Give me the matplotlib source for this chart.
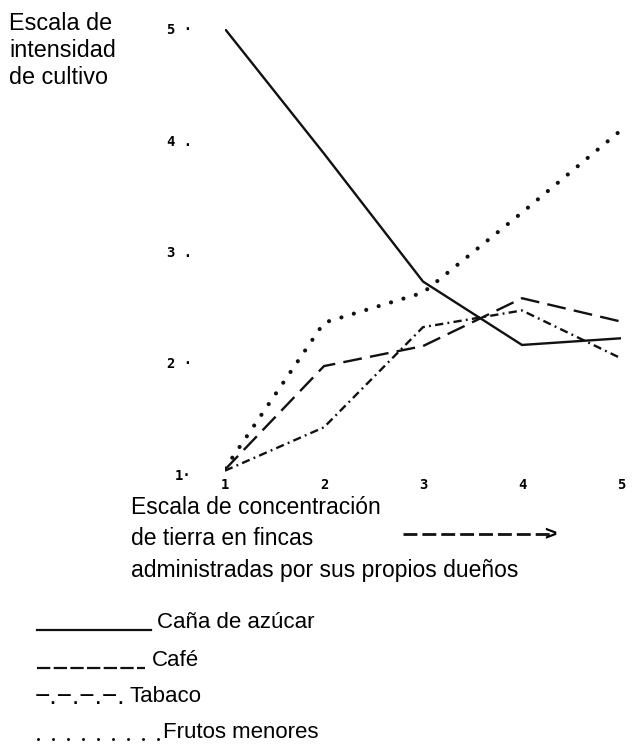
import matplotlib
matplotlib.use("Agg")
import matplotlib.pyplot as plt
from matplotlib.lines import Line2D

# data
x_vals = [1, 2, 3, 4, 5]
cana = [5.0, 3.88, 2.73, 2.16, 2.22]
cafe = [1.04, 1.97, 2.15, 2.58, 2.37]
tabaco = [1.03, 1.42, 2.32, 2.47, 2.04]
frutos = [1.05, 2.36, 2.63, 3.35, 4.09]

x_ticks = [1, 2, 3, 4, 5]
y_ticks = [1, 2, 3, 4, 5]
y_tick_labels = ["1·", "2 ·", "3 .", "4 .", "5 ·"]
x_tick_labels = ["1", "2", "3", "4", "5"]

plt.rcParams['font.family'] = ['Liberation Sans', 'DejaVu Sans']

W, H = 633, 746
fig = plt.figure(figsize=(W / 100, H / 100), dpi=100)


def fx(px):
    return px / W


def fy(py):
    return 1 - py / H


# axes placed so x=1 -> 225px, x=5 -> 621px, y=1 -> 474px, y=5 -> 29px
ax = fig.add_axes([fx(225), fy(474), (621 - 225) / W, (474 - 29) / H])
ax.set_xlim(1, 5)
ax.set_ylim(1, 5)
for s in ax.spines.values():
    s.set_visible(False)

ink = "#111111"
ax.plot(x_vals, cana, color=ink, lw=1.7, solid_joinstyle='miter')
ax.plot(x_vals, cafe, color=ink, lw=1.7, linestyle=(0, (8, 3.5)))
ax.plot(x_vals, tabaco, color=ink, lw=1.7, linestyle=(0, (3.5, 1.8, 0.8, 1.8)))
ax.plot(x_vals, frutos, color=ink, lw=3, linestyle=(0, (0.01, 3.1)),
        dash_capstyle='round')

ax.set_xticks(x_ticks)
ax.set_xticklabels(x_tick_labels)
ax.set_yticks(y_ticks)
ax.set_yticklabels(y_tick_labels)
ax.tick_params(axis='both', length=0, labelsize=10)
ax.tick_params(axis='x', pad=3)
ax.tick_params(axis='y', pad=24)
for lab in ax.get_xticklabels() + ax.get_yticklabels():
    lab.set_fontfamily('DejaVu Sans Mono')
    lab.set_fontweight('bold')

# y-axis title, top left
fig.text(fx(9), fy(12), "Escala de\nintensidad\nde cultivo", fontsize=16.8,
         ha='left', va='top', linespacing=1.22)

# x-axis title
fig.text(fx(131), fy(496), "Escala de concentración\nde tierra en fincas\n"
         "administradas por sus propios dueños", fontsize=16.5,
         ha='left', va='top', linespacing=1.47)

# dashed arrow next to the x title
fig.add_artist(Line2D([fx(403), fx(550)], [fy(534), fy(534)], color=ink,
                      lw=2, linestyle=(0, (5, 1.8))))
fig.text(fx(544), fy(535), ">", fontsize=15, fontweight='bold',
         ha='left', va='center')

# typed legend at the bottom
fig.add_artist(Line2D([fx(37), fx(151)], [fy(630), fy(630)], color=ink, lw=1.6))
fig.text(fx(157), fy(623), "Caña de azúcar", fontsize=16, ha='left', va='center')

fig.add_artist(Line2D([fx(37), fx(145)], [fy(668), fy(668)], color=ink, lw=1.6,
                      linestyle=(0, (6, 1.5))))
fig.text(fx(152), fy(661), "Café", fontsize=16, ha='left', va='center')

fig.text(fx(35), fy(697), "−.−.−.−.", fontsize=19, ha='left', va='center')
fig.text(fx(129), fy(697), "Tabaco", fontsize=16, ha='left', va='center')

fig.add_artist(Line2D([fx(38), fx(161)], [fy(739), fy(739)], color=ink, lw=2.2,
                      linestyle=(0, (0.01, 4.9)), dash_capstyle='round'))
fig.text(fx(163), fy(733), "Frutos menores", fontsize=16, ha='left', va='center')

fig.savefig("out.png", dpi=100)
